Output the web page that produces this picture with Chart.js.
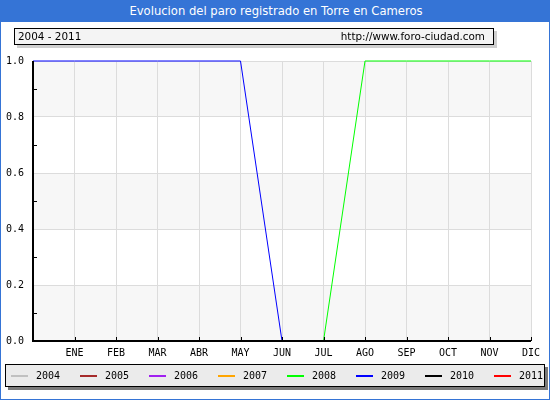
<!DOCTYPE html>
<html>
<head>
<meta charset="utf-8">
<script src="https://cdn.jsdelivr.net/npm/chart.js@4/dist/chart.umd.min.js"></script>
<style>
  html, body { margin: 0; padding: 0; background: #fff; }
  #wrap { position: relative; width: 550px; height: 400px; box-sizing: border-box; border: 1px solid #3574d6; border-top: none; overflow: hidden; }
  #title { position: absolute; left: 0; top: 0; width: 550px; height: 22px; background: #3574d6; color: #fff;
           font: 11.6px "DejaVu Sans", sans-serif; text-align: center; line-height: 22px; }
  #sub { position: absolute; left: 13px; top: 28px; width: 478px; height: 15px; background: #f4f4f4; border: 1px solid #000;
         box-shadow: 3px 3px 0 #cfcfcf; font: 10.4px "DejaVu Sans", sans-serif; line-height: 15px; }
  #sub .l { position: absolute; left: 3px; }
  #sub .r { position: absolute; right: 8px; }
  #chartBox { position: absolute; left: 0; top: 0; width: 550px; height: 400px; }
  #xaxis { position: absolute; left: 31px; top: 340px; width: 499px; height: 2px; background: #000; }
  #yaxis { position: absolute; left: 31px; top: 61px; width: 2px; height: 281px; background: #000; }
  #legend { position: absolute; left: 4px; top: 364px; width: 538px; height: 21px; background: #ebebeb; border: 1px solid #000;
            box-shadow: 3px 3px 0 #7a7a7a; font: 10px "DejaVu Sans Mono", monospace; }
  #legend .it { position: absolute; top: 0; height: 21px; line-height: 21px; }
  #legend .sw { position: absolute; top: 10px; left: 0; width: 17px; height: 2px; }
  #legend .tx { position: absolute; left: 25px; }
</style>
</head>
<body>
<div id="wrap">
  <div id="chartBox"><canvas id="paroChart" width="550" height="400"></canvas></div>
  <div id="xaxis"></div>
  <div id="yaxis"></div>
  <div id="title">Evolucion del paro registrado en Torre en Cameros</div>
  <div id="sub"><span class="l">2004 - 2011</span><span class="r">http://www.foro-ciudad.com</span></div>
  <div id="legend"></div>
</div>
<script>
const months = ["", "ENE", "FEB", "MAR", "ABR", "MAY", "JUN", "JUL", "AGO", "SEP", "OCT", "NOV", "DIC"];
const years = ["2004", "2005", "2006", "2007", "2008", "2009", "2010", "2011"];
const colors = ["#c0c0c0", "#a52a2a", "#a020f0", "#ffa500", "#00ff00", "#0000ff", "#000000", "#ff0000"];

const values2004 = [];
const values2005 = [];
const values2006 = [];
const values2007 = [];
const values2008 = [null, null, null, null, null, null, null, 0, 1, 1, 1, 1, 1];
const values2009 = [1, 1, 1, 1, 1, 1, 0, null, null, null, null, null, null];
const values2010 = [];
const values2011 = [];
const yTicks = [0, 0.2, 0.4, 0.6, 0.8, 1.0];

const seriesValues = [values2004, values2005, values2006, values2007, values2008, values2009, values2010, values2011];

// legend in html, one item per year
const legendEl = document.getElementById("legend");
years.forEach(function (y, i) {
  const item = document.createElement("div");
  item.className = "it";
  item.style.left = (5 + i * 69) + "px";
  item.innerHTML = '<span class="sw" style="background:' + colors[i] + '"></span><span class="tx">' + y + "</span>";
  legendEl.appendChild(item);
});

// alternating bands (under the grid) and inner tick marks
const decor = {
  id: "decor",
  beforeDraw(chart) {
    const ctx = chart.ctx;
    const a = chart.chartArea;
    const ys = chart.scales.y;
    ctx.save();
    ctx.fillStyle = "#f7f7f7";
    for (let i = 0; i < yTicks.length - 1; i += 2) {
      const top = ys.getPixelForValue(yTicks[yTicks.length - 1 - i]);
      const bot = ys.getPixelForValue(yTicks[yTicks.length - 2 - i]);
      ctx.fillRect(a.left, top, a.right - a.left, bot - top);
    }
    ctx.restore();
  },
  afterDraw(chart) {
    const ctx = chart.ctx;
    const a = chart.chartArea;
    const xs = chart.scales.x;
    const ys = chart.scales.y;
    const lx = Math.round(a.left);
    const by = Math.round(a.bottom);
    ctx.save();
    ctx.fillStyle = "#000";
    for (let i = 1; i < months.length; i++) {
      const px = Math.round(xs.getPixelForValue(i));
      ctx.fillRect(px, by - 4, 1, 4);
    }
    for (let i = 0; i < yTicks.length - 1; i++) {
      const py = Math.round(ys.getPixelForValue((yTicks[i] + yTicks[i + 1]) / 2));
      ctx.fillRect(lx, py, 4, 1);
    }
    ctx.restore();
  }
};

const ctx = document.getElementById("paroChart").getContext("2d");
new Chart(ctx, {
  type: "line",
  data: {
    labels: months,
    datasets: years.map(function (y, i) {
      return {
        label: y,
        data: seriesValues[i],
        borderColor: colors[i],
        borderWidth: 1,
        pointRadius: 0,
        fill: false,
        spanGaps: false,
        clip: false
      };
    })
  },
  options: {
    responsive: false,
    animation: false,
    layout: { padding: { left: 0, top: 61, right: 20, bottom: 0 } },
    plugins: { legend: { display: false }, tooltip: { enabled: false } },
    scales: {
      x: {
        offset: false,
        grid: { color: "#dcdcdc", drawTicks: false },
        border: { display: false },
        ticks: { color: "#000", font: { family: "DejaVu Sans Mono", size: 10 }, padding: 6, maxRotation: 0, autoSkip: false },
        afterFit(scale) { scale.height = 59; }
      },
      y: {
        min: 0,
        max: 1,
        grid: { color: "#dcdcdc", drawTicks: false },
        border: { display: false },
        afterBuildTicks(scale) { scale.ticks = yTicks.map(function (v) { return { value: v }; }); },
        ticks: {
          color: "#000",
          font: { family: "DejaVu Sans Mono", size: 10 },
          padding: 9,
          callback: function (v) { return Number(v).toFixed(1); }
        },
        afterFit(scale) { scale.width = 32; }
      }
    }
  },
  plugins: [decor]
});
</script>
</body>
</html>
